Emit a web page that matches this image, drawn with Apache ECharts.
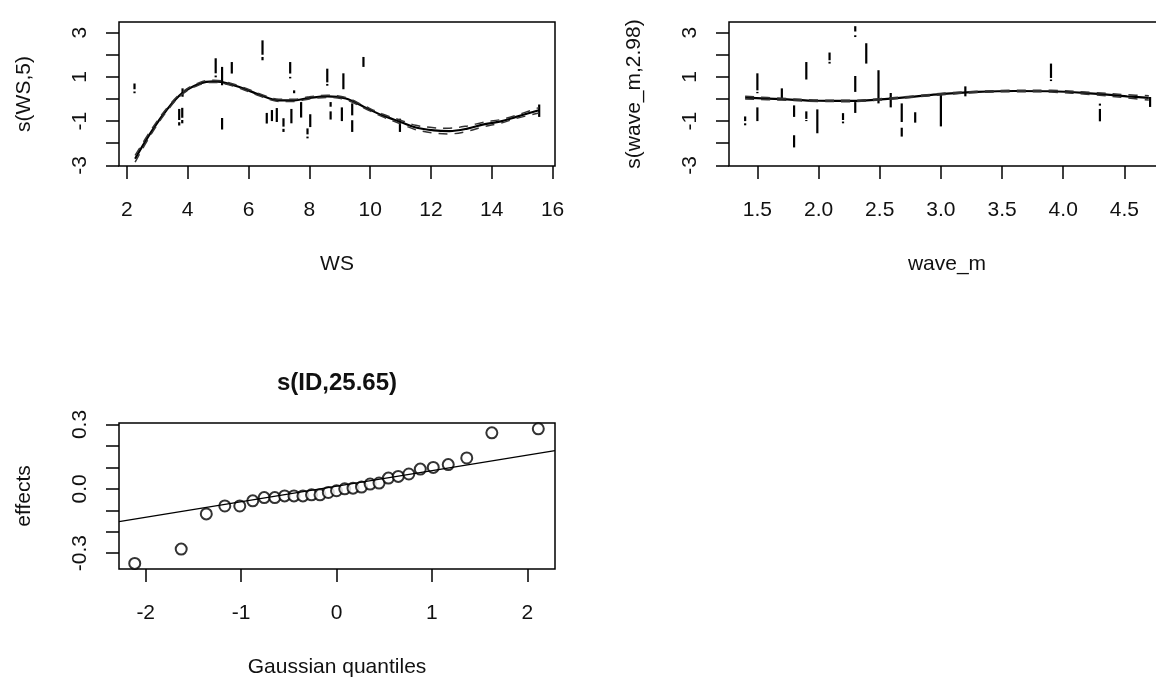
<!DOCTYPE html>
<html>
<head>
<meta charset="utf-8">
<script src="https://cdn.jsdelivr.net/npm/echarts@6/dist/echarts.min.js"></script>
<style>
    html, body { margin: 0; padding: 0; background: #fff; overflow: hidden; }
    .echart-container { width: 1156px; height: 680px; }
</style>
</head>
<body>
<div id="gamPlot" class="echart-container"></div>
<script>
    // smooth s(WS,5): fitted curve and the two dashed +-2se lines
    const wsX     = [2.27, 2.8, 3.3, 3.8, 4.4, 4.85, 5.1, 5.7, 6.4, 7.0, 7.5, 8.0, 8.6, 9.2, 9.8, 10.4, 11.0, 11.5, 12.1, 12.6, 13.2, 13.7, 14.3, 14.8, 15.55];
    const wsFit   = [-2.70, -1.49, -0.51, 0.24, 0.70, 0.80, 0.77, 0.54, 0.17, -0.06, -0.06, 0.05, 0.12, 0.02, -0.36, -0.74, -1.04, -1.29, -1.42, -1.45, -1.34, -1.16, -1.01, -0.81, -0.51];
    const wsUpper = [-2.55, -1.39, -0.44, 0.29, 0.75, 0.85, 0.82, 0.59, 0.22, -0.01, -0.01, 0.10, 0.17, 0.07, -0.31, -0.68, -0.96, -1.19, -1.30, -1.32, -1.22, -1.06, -0.93, -0.74, -0.39];
    const wsLower = [-2.85, -1.59, -0.58, 0.19, 0.65, 0.75, 0.72, 0.49, 0.12, -0.11, -0.11, 0.00, 0.07, -0.03, -0.41, -0.80, -1.12, -1.39, -1.54, -1.58, -1.46, -1.26, -1.09, -0.88, -0.63];
    // partial residuals: [WS, from, to]
    const wsResid = [
        [2.25, 0.44, 0.70], [2.25, 0.26, 0.34], [3.83, 0.10, 0.48],
        [3.72, -0.95, -0.45], [3.72, -1.20, -1.05], [3.82, -0.85, -0.40], [3.82, -1.10, -0.95],
        [4.92, 1.16, 1.84], [4.92, 0.98, 1.06], [5.13, 0.62, 1.45], [5.13, -1.38, -0.86],
        [5.45, 1.15, 1.67], [6.46, 2.00, 2.65], [6.46, 1.75, 1.90],
        [6.60, -1.11, -0.63], [6.77, -1.00, -0.50], [6.93, -1.04, -0.41],
        [7.15, -1.25, -0.87], [7.15, -1.49, -1.35], [7.37, 1.15, 1.67], [7.37, 0.93, 1.00],
        [7.41, -1.10, -0.45], [7.50, 0.26, 0.39], [7.73, -0.84, -0.14],
        [7.94, -1.60, -1.33], [7.94, -1.78, -1.70], [8.03, -1.27, -0.69],
        [8.59, 0.75, 1.37], [8.59, 0.60, 0.68], [8.70, -0.35, -0.14], [8.70, -0.93, -0.56],
        [9.07, -1.00, -0.38], [9.12, 0.44, 1.16], [9.41, -0.74, -0.20], [9.41, -1.49, -0.96],
        [9.78, 1.45, 1.90], [10.98, -1.49, -0.89], [15.56, -0.81, -0.25]
    ];

    // smooth s(wave_m,2.98)
    const waveX     = [1.40, 1.70, 2.00, 2.25, 2.50, 2.80, 3.05, 3.30, 3.60, 3.90, 4.25, 4.52, 4.70];
    const waveFit   = [0.06, -0.01, -0.08, -0.09, -0.02, 0.12, 0.24, 0.32, 0.36, 0.35, 0.24, 0.12, 0.05];
    const waveUpper = [0.12, 0.03, -0.05, -0.06, 0.01, 0.15, 0.27, 0.35, 0.39, 0.39, 0.29, 0.19, 0.15];
    const waveLower = [0.00, -0.05, -0.11, -0.12, -0.05, 0.09, 0.21, 0.29, 0.33, 0.31, 0.19, 0.05, -0.05];
    const waveResid = [
        [1.40, -1.00, -0.79], [1.40, -1.19, -1.10], [1.50, 0.39, 1.16], [1.50, 0.26, 0.32], [1.50, -1.00, -0.38],
        [1.70, -0.01, 0.48], [1.80, -0.81, -0.29], [1.80, -2.19, -1.64],
        [1.90, 0.88, 1.67], [1.90, -0.90, -0.56], [1.90, -1.00, -0.95], [1.99, -1.55, -0.47],
        [2.09, 1.75, 2.10], [2.09, 1.60, 1.68], [2.20, -0.95, -0.64], [2.20, -1.10, -1.02],
        [2.30, 3.05, 3.29], [2.30, 2.80, 2.88], [2.30, 0.32, 1.04], [2.30, -0.63, -0.14],
        [2.39, 1.60, 2.52], [2.49, -0.20, 1.30], [2.59, -0.38, 0.27],
        [2.68, -1.04, -0.20], [2.68, -1.70, -1.30], [2.79, -1.07, -0.60],
        [3.00, -1.24, 0.21], [3.20, 0.12, 0.57], [3.90, 0.95, 1.60], [3.90, 0.81, 0.88],
        [4.30, -1.01, -0.45], [4.30, -0.30, -0.21], [4.71, -0.36, 0.09]
    ];

    // s(ID,25.65) random effect qq-plot
    const qqX = [-2.115, -1.628, -1.365, -1.171, -1.014, -0.878, -0.758, -0.647, -0.544, -0.446, -0.352, -0.262, -0.173, -0.086, 0,
                 0.086, 0.173, 0.262, 0.352, 0.446, 0.544, 0.647, 0.758, 0.878, 1.014, 1.171, 1.365, 1.628, 2.115];
    const qqY = [-0.348, -0.281, -0.117, -0.080, -0.080, -0.056, -0.041, -0.041, -0.033, -0.033, -0.033, -0.028, -0.028, -0.017, -0.009,
                 0.000, 0.003, 0.008, 0.022, 0.027, 0.050, 0.058, 0.069, 0.092, 0.100, 0.113, 0.144, 0.261, 0.280];
    const qqLine = [[-2.28, -0.153], [2.29, 0.178]];

    // tick labels
    const wsTicks = [2, 4, 6, 8, 10, 12, 14, 16];
    const waveTicks = [1.5, 2.0, 2.5, 3.0, 3.5, 4.0, 4.5];
    const qqTicks = [-2, -1, 0, 1, 2];
    const sTicks = [-3, -2, -1, 0, 1, 2, 3];
    const sLabels = [-3, -1, 1, 3];
    const effTicks = [-0.3, -0.2, -0.1, 0, 0.1, 0.2, 0.3];
    const effLabels = [-0.3, 0, 0.3];

    const FONT = '"Liberation Sans", Arial, sans-serif';
    const INK = '#111';

    function zip(xs, ys) {
        const out = [];
        for (let i = 0; i < xs.length; i++) out.push([xs[i], ys[i]]);
        return out;
    }

    function xAxisOf(gridIndex, min, max, ticks, name, digits) {
        return {
            type: 'value', gridIndex: gridIndex, min: min, max: max, position: 'bottom',
            name: name, nameLocation: 'middle', nameGap: 88,
            nameTextStyle: { color: INK, fontSize: 21, fontFamily: FONT },
            axisLine: { show: false, onZero: false },
            axisTick: { show: true, length: 13, customValues: ticks, lineStyle: { color: '#000', width: 1.5 } },
            axisLabel: {
                customValues: ticks, margin: 34, color: INK, fontSize: 21, fontFamily: FONT,
                formatter: function (v) { return digits ? Number(v).toFixed(digits) : String(Math.round(v)); }
            },
            splitLine: { show: false }
        };
    }

    function yAxisOf(gridIndex, min, max, ticks, labels, name, digits) {
        return {
            type: 'value', gridIndex: gridIndex, min: min, max: max, position: 'left',
            name: name, nameLocation: 'middle', nameGap: 84, nameRotate: 90,
            nameTextStyle: { color: INK, fontSize: 21, fontFamily: FONT },
            axisLine: { show: false, onZero: false },
            axisTick: { show: true, length: 13, customValues: ticks, lineStyle: { color: '#000', width: 1.5 } },
            axisLabel: {
                customValues: labels, rotate: 90, margin: 28, color: INK, fontSize: 21, fontFamily: FONT,
                formatter: function (v) { return digits ? Number(v).toFixed(digits) : String(Math.round(v)); }
            },
            splitLine: { show: false }
        };
    }

    function residSeries(idx, data) {
        return {
            type: 'custom', xAxisIndex: idx, yAxisIndex: idx, clip: true,
            encode: { x: 0, y: [1, 2] },
            renderItem: function (params, api) {
                const a = api.coord([api.value(0), api.value(1)]);
                const b = api.coord([api.value(0), api.value(2)]);
                return {
                    type: 'line',
                    shape: { x1: a[0], y1: a[1], x2: b[0], y2: b[1] },
                    style: { stroke: '#000', lineWidth: 2.2 }
                };
            },
            data: data
        };
    }

    function curve(idx, data, dashed) {
        return {
            type: 'line', xAxisIndex: idx, yAxisIndex: idx, smooth: 0.35,
            symbol: 'none', silent: true,
            lineStyle: dashed ? { color: '#333', width: 1.5, type: [9, 7] } : { color: '#000', width: 2.2 },
            data: data
        };
    }

    const gridBase = { show: true, borderColor: '#000', borderWidth: 1.5, backgroundColor: 'transparent', outerBoundsMode: 'none', containLabel: false };

    let chartDom = document.getElementById('gamPlot');
    let gamChart = echarts.init(chartDom, null, { renderer: 'canvas' });
    let option = {
        animation: false,
        backgroundColor: '#fff',
        grid: [
            Object.assign({ left: 119, top: 22, width: 436, height: 144 }, gridBase),
            Object.assign({ left: 729, top: 22, width: 436, height: 144 }, gridBase),
            Object.assign({ left: 119, top: 423, width: 436, height: 146 }, gridBase)
        ],
        xAxis: [
            xAxisOf(0, 1.74, 16.08, wsTicks, 'WS', 0),
            xAxisOf(1, 1.268, 4.832, waveTicks, 'wave_m', 1),
            xAxisOf(2, -2.28, 2.29, qqTicks, 'Gaussian quantiles', 0)
        ],
        yAxis: [
            yAxisOf(0, -3.03, 3.48, sTicks, sLabels, 's(WS,5)', 0),
            yAxisOf(1, -3.03, 3.48, sTicks, sLabels, 's(wave_m,2.98)', 0),
            yAxisOf(2, -0.374, 0.307, effTicks, effLabels, 'effects', 1)
        ],
        graphic: [{
            type: 'text', x: 337, y: 383,
            style: { text: 's(ID,25.65)', font: 'bold 24px ' + FONT, fill: INK, textAlign: 'center', textVerticalAlign: 'middle' }
        }],
        series: [
            residSeries(0, wsResid),
            curve(0, zip(wsX, wsFit), false),
            curve(0, zip(wsX, wsUpper), true),
            curve(0, zip(wsX, wsLower), true),

            residSeries(1, waveResid),
            curve(1, zip(waveX, waveFit), false),
            curve(1, zip(waveX, waveUpper), true),
            curve(1, zip(waveX, waveLower), true),

            {
                type: 'line', xAxisIndex: 2, yAxisIndex: 2, symbol: 'none', silent: true,
                lineStyle: { color: '#000', width: 1.3 },
                data: qqLine
            },
            {
                type: 'scatter', xAxisIndex: 2, yAxisIndex: 2,
                symbol: 'emptyCircle', symbolSize: 11,
                itemStyle: { color: '#000', borderColor: '#000', borderWidth: 1.4 },
                data: zip(qqX, qqY)
            }
        ]
    };
    gamChart.setOption(option);
    window.onresize = () => { gamChart.resize(); };
</script>
</body>
</html>
